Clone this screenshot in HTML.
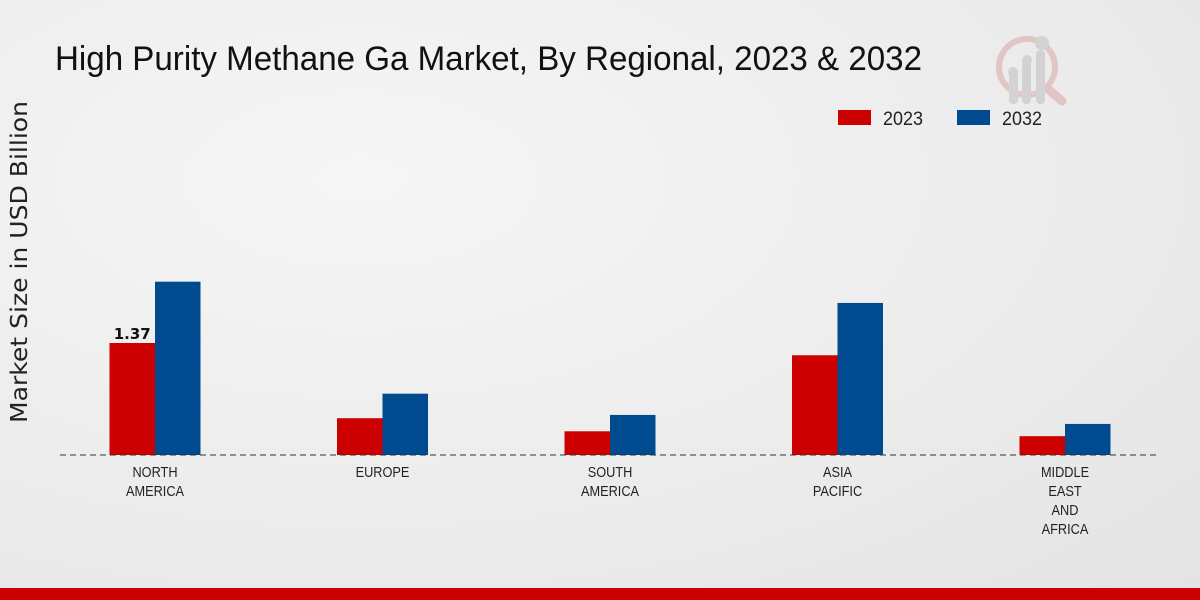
<!DOCTYPE html>
<html><head><meta charset="utf-8"><style>
body{margin:0;width:1200px;height:600px;overflow:hidden;background:radial-gradient(ellipse at 30% 30%,#f6f6f6,#e4e4e4);font-family:"Liberation Sans",sans-serif;}
</style></head><body>
<svg width="1200" height="600" style="position:absolute;left:0;top:0">
<text x="55" y="70" font-size="34" fill="#111" textLength="867" lengthAdjust="spacingAndGlyphs">High Purity Methane Ga Market, By Regional, 2023 &amp; 2032</text>
<text transform="translate(27,262) rotate(-90)" text-anchor="middle" font-size="23" fill="#222" textLength="322" lengthAdjust="spacingAndGlyphs" style="font-family:'DejaVu Sans',sans-serif">Market Size in USD Billion</text>
<g opacity="0.5">
<circle cx="1027" cy="67" r="28" fill="none" stroke="#d9a0a0" stroke-width="6"/>
<line x1="1047" y1="88" x2="1062" y2="101" stroke="#d9a0a0" stroke-width="9" stroke-linecap="round"/>
<rect x="1009" y="72" width="9" height="32" rx="4" fill="#bbb"/><rect x="1022" y="60" width="9" height="44" rx="4" fill="#bbb"/><rect x="1036" y="50" width="9" height="54" rx="4" fill="#bbb"/>
<circle cx="1013" cy="72" r="5" fill="#bbb"/><circle cx="1027" cy="60" r="5" fill="#bbb"/><circle cx="1042" cy="43" r="7" fill="#bbb"/>
</g>
<g>
<rect x="838" y="110" width="33" height="15" fill="#cc0000"/>
<text x="883" y="125" font-size="19" fill="#222" textLength="40" lengthAdjust="spacingAndGlyphs">2023</text>
<rect x="957" y="110" width="33" height="15" fill="#004a8f"/>
<text x="1002" y="125" font-size="19" fill="#222" textLength="40" lengthAdjust="spacingAndGlyphs">2032</text>
</g>
<g id="bars"></g>
<line x1="60" y1="455" x2="1160" y2="455" stroke="#333" stroke-dasharray="6,4"/>
<g id="labels"></g>
<rect x="0" y="588" width="1200" height="12" fill="#cc0000"/>
</svg>
<script>
const categories=[["NORTH","AMERICA"],["EUROPE"],["SOUTH","AMERICA"],["ASIA","PACIFIC"],["MIDDLE","EAST","AND","AFRICA"]];
const values2023=[1.37,0.45,0.29,1.22,0.23];
const values2032=[2.12,0.75,0.49,1.86,0.38];
const ns="http://www.w3.org/2000/svg";
const base=455,scale=81.75,x0=155,step=227.5,bw=45.5;
const y=v=>base-v*scale;
const bars=document.getElementById('bars'),labels=document.getElementById('labels');
function mk(t,a){const e=document.createElementNS(ns,t);for(const k in a)e.setAttribute(k,a[k]);return e;}
categories.forEach((c,i)=>{
 const cx=x0+i*step;
 const r=mk('rect',{x:cx-bw,y:y(values2023[i]),width:bw,height:values2023[i]*scale,fill:'#cc0000'});
 
 
 bars.appendChild(r);
 const b=mk('rect',{x:cx,y:y(values2032[i]),width:bw,height:values2032[i]*scale,fill:'#004a8f'});
 
 
 bars.appendChild(b);
 c.forEach((ln,j)=>{
  const t=mk('text',{'text-anchor':'middle','font-size':15,fill:'#222',transform:`translate(${cx},${477+j*19}) scale(0.85,1)`});
  t.textContent=ln;
  
  
  labels.appendChild(t);
 });
});
const v=mk('text',{x:x0-bw/2,y:y(values2023[0])-4,'text-anchor':'middle','font-size':15,'font-weight':'bold',fill:'#111',style:"font-family:'DejaVu Sans',sans-serif"});
v.textContent=values2023[0];


labels.appendChild(v);
</script>
</body></html>
